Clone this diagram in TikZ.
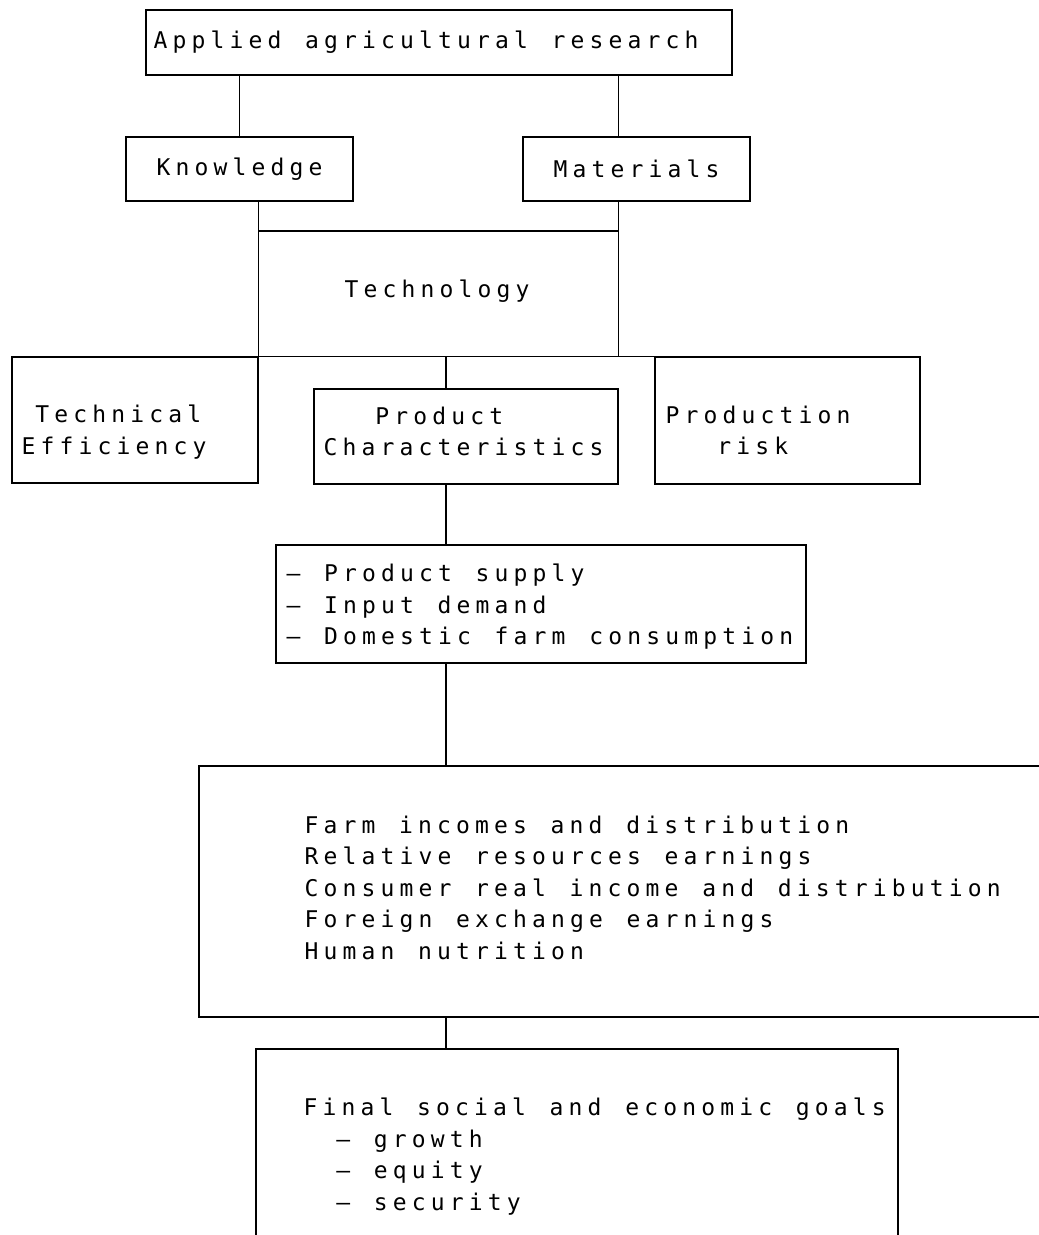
\documentclass[tikz,border=0pt]{standalone}
\usepackage{fontspec}
\newfontfamily\plotfont[LetterSpace=22.4, WordSpace=1.25]{DejaVu Sans Mono}
\newcommand\plotsize{\plotfont\fontsize{23pt}{31.5pt}\selectfont}

\begin{document}
\begin{tikzpicture}[x=1pt,y=-1pt,
  box/.style={draw, line width=1.3pt, rectangle, inner sep=0pt, font=\plotsize},
  txt/.style={font=\plotsize, inner sep=0pt, anchor=west, align=left},
  link/.style={line width=1.3pt}]

\clip (0,0) rectangle (1039,1235);

\node[box, minimum width=586, minimum height=65] (research) at (439,42.5) {};
\node[txt] (researchtext) at ([xshift=8]research.west) {Applied agricultural research};
\node[box, minimum width=227, minimum height=64] (knowledge) at (239.5,169) {Knowledge};
\node[box, minimum width=227, minimum height=64] (materials) at (636.5,169) {Materials};
\node[txt, anchor=center] (tech) at (437,291) {Technology};
\node[box, minimum width=246, minimum height=126] (techeff) at (135,420) {};
\node[txt] (techefftext) at ([xshift=10,yshift=-12]techeff.west) {\hphantom{E}Technical\\Efficiency};
\node[box, minimum width=304, minimum height=95] (prodchar) at (466,436.5) {};
\node[txt] (prodchartext) at ([xshift=10,yshift=5]prodchar.west) {\hphantom{Cha}Product\\Characteristics};
\node[box, minimum width=265, minimum height=127] (prisk) at (787.5,420.5) {};
\node[txt] (prisktext) at ([xshift=11,yshift=-10]prisk.west) {Production\\\hphantom{Pro}risk};
\node[box, minimum width=530, minimum height=118] (supply) at (541,604) {};
\node[txt] (supplytext) at ([xshift=11,yshift=-3]supply.west)
  {– Product supply\\– Input demand\\– Domestic farm consumption};
\node[box, minimum width=921, minimum height=251] (outcomes) at (659.5,891.5) {};
\node[txt] (outtext) at ([xshift=106,yshift=4]outcomes.west)
  {Farm incomes and distribution\\Relative resources earnings\\Consumer real income and distribution\\Foreign exchange earnings\\Human nutrition};
\node[box, minimum width=642, minimum height=211] (goals) at (577,1154.5) {};
\node[txt] (goaltext) at ([xshift=48,yshift=-2]goals.west)
  {Final social and economic goals\\\hphantom{ab}– growth\\\hphantom{ab}– equity\\\hphantom{ab}– security};

\coordinate (spine) at (446,0);
\coordinate (techjoin) at (258,231);

\draw[link] (research.south -| knowledge) -- (knowledge.north);
\draw[link] (research.south -| prodchar.east) -- (materials.north -| prodchar.east);
\draw[link] (knowledge.south -| techeff.east) -- (techeff.north east);
\draw[link] (materials.south -| prodchar.east) -- (techeff.north -| prodchar.east);
\draw[link] (techjoin) -- (techjoin -| prodchar.east);
\draw[link] (techeff.north east) -- (prisk.north west);
\draw[link] (techeff.north -| spine) -- (prodchar.north -| spine);
\draw[link] (prodchar.south -| spine) -- (supply.north -| spine);
\draw[link] (supply.south -| spine) -- (outcomes.north -| spine);
\draw[link] (outcomes.south -| spine) -- (goals.north -| spine);
\end{tikzpicture}
\end{document}
